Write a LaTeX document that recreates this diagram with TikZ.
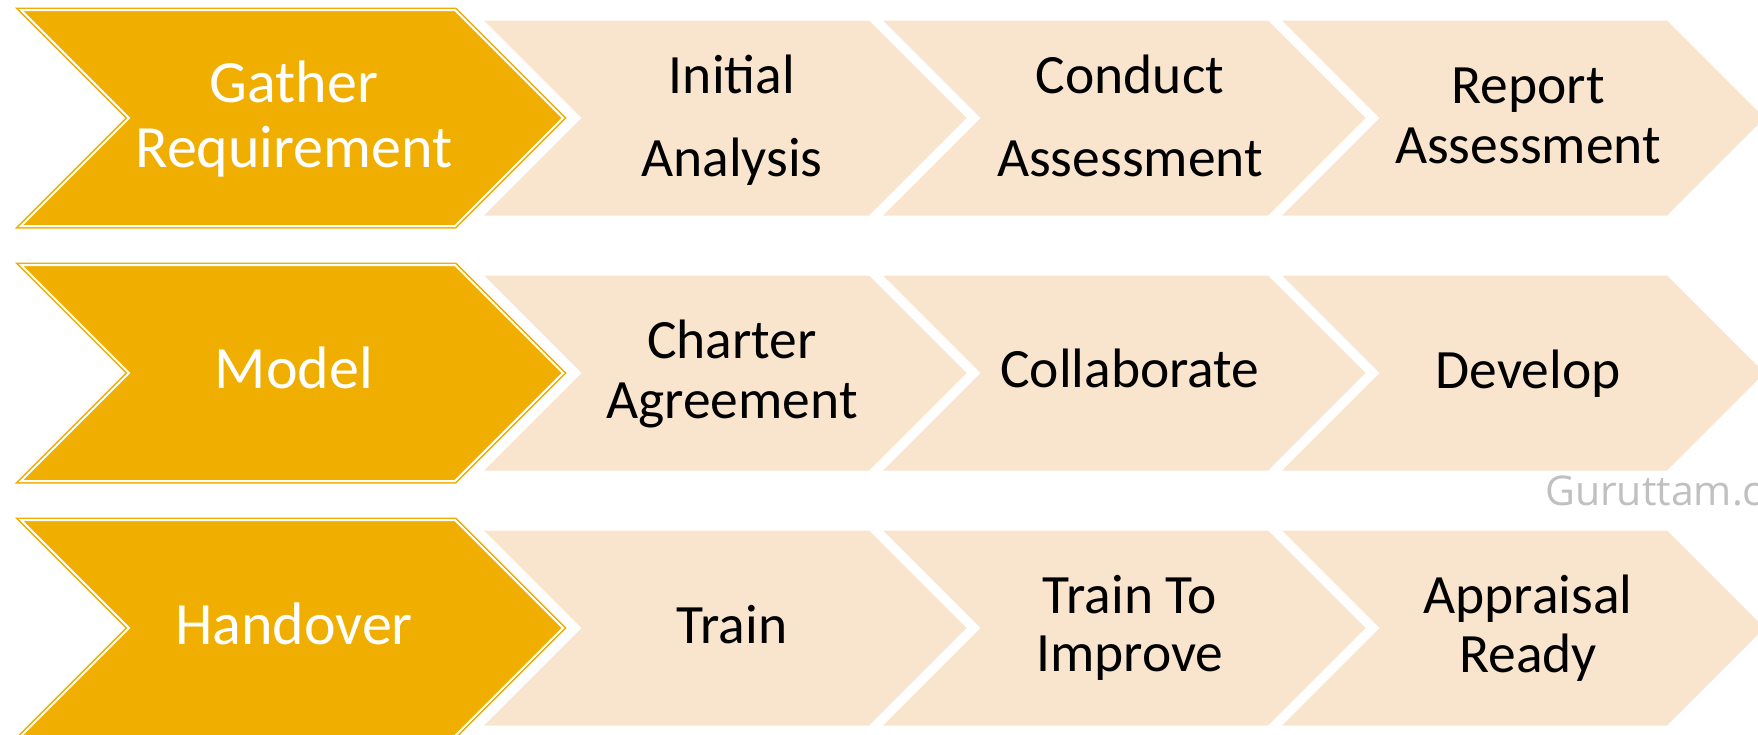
\documentclass[tikz,border=0pt]{standalone}
\usepackage{fontspec}
\setmainfont{Carlito}
\newfontfamily\wmfont{Open Sans}
\definecolor{gold}{HTML}{F0AE00}
\definecolor{peach}{HTML}{F9E4CE}
\definecolor{wmgray}{HTML}{C0C0C0}
\newcommand{\twoln}[2]{\begin{tabular}[t]{@{}c@{}}#1\\#2\end{tabular}}
\begin{document}
\begin{tikzpicture}[x=1pt,y=-1pt,
  goldbox/.style={fill=gold, draw=gold, line width=1.5pt, double=white, double distance=2pt, line join=miter},
  peachbox/.style={fill=peach, draw=none},
  whitetxt/.style={text=white, inner sep=0pt, anchor=base},
  blacktxt/.style={text=black, inner sep=0pt, anchor=base},
]
\useasboundingbox (0,0) rectangle (1758,734);
\clip (0,0) rectangle (1758,734);
\foreach \cy in {118,373,628}{
  \foreach \L in {484,883,1282}{
    \path[peachbox] (\L,\cy-97.5) -- (\L+385,\cy-97.5) -- (\L+482.5,\cy) -- (\L+385,\cy+97.5) -- (\L,\cy+97.5) -- (\L+97.5,\cy) -- cycle;
  }
  \draw[goldbox] (21,\cy-108) -- (455,\cy-108) -- (563,\cy) -- (455,\cy+108) -- (21,\cy+108) -- (129,\cy) -- cycle;
}
% gold labels
\node[whitetxt, font=\fontsize{60}{65}\selectfont] (g1) at (294,102) {\twoln{Gather}{Requirement}};
\node[whitetxt, font=\fontsize{60}{65}\selectfont] (g2) at (294,388) {Model};
\node[whitetxt, font=\fontsize{60}{65}\selectfont] (g3) at (294,644) {Handover};
% row 1
\node[blacktxt, font=\fontsize{55.5}{83}\selectfont] (a1) at (732,93) {\twoln{Initial}{Analysis}};
\node[blacktxt, font=\fontsize{55.5}{83}\selectfont] (a2) at (1130,93) {\twoln{Conduct}{Assessment}};
\node[blacktxt, font=\fontsize{55.5}{60}\selectfont] (a3) at (1528,103) {\twoln{Report}{Assessment}};
% row 2
\node[blacktxt, font=\fontsize{55.5}{60}\selectfont] (b1) at (732,358) {\twoln{Charter}{Agreement}};
\node[blacktxt, font=\fontsize{55.5}{60}\selectfont] (b2) at (1130,387) {Collaborate};
\node[blacktxt, font=\fontsize{55.5}{60}\selectfont] (b3) at (1528,388) {Develop};
% row 3
\node[blacktxt, font=\fontsize{55.5}{60}\selectfont] (c1) at (732,643) {Train};
\node[blacktxt, font=\fontsize{55.5}{58}\selectfont] (c2) at (1130,613) {\twoln{Train To}{Improve}};
\node[blacktxt, font=\fontsize{55.5}{59}\selectfont] (c3) at (1528,613) {\twoln{Appraisal}{Ready}};
% watermark
\node[anchor=base west, inner sep=0pt, text=wmgray, font=\wmfont\fontsize{41}{50}\selectfont] (wm) at (1545,505) {Guruttam.c};
\end{tikzpicture}
\end{document}
